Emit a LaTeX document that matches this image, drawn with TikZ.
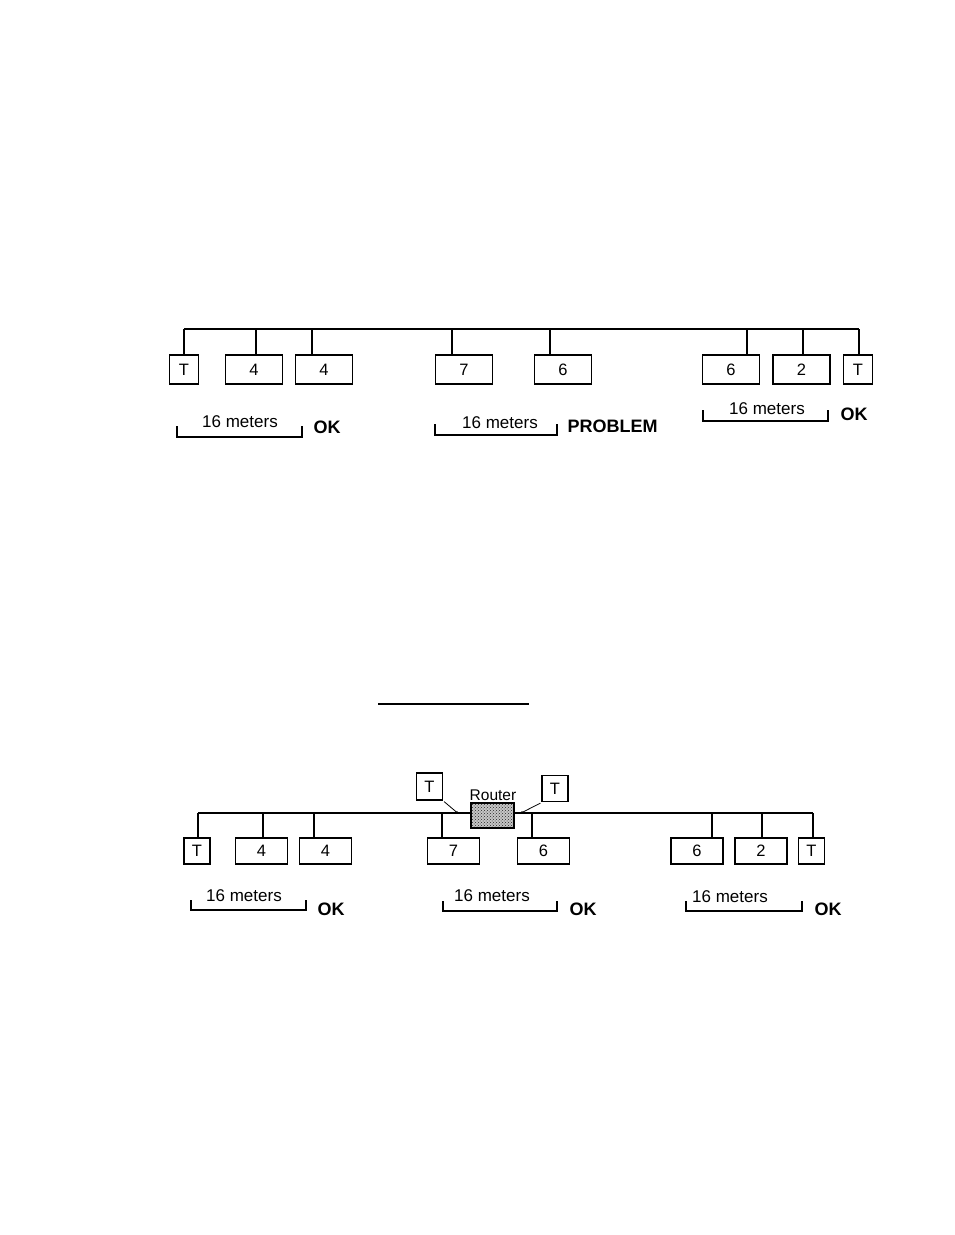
\documentclass[tikz,border=0pt]{standalone}
\usepackage{fontspec}
\setmainfont{Liberation Sans}
\usetikzlibrary{patterns}
\begin{document}
\begin{tikzpicture}[x=1pt,y=-1pt,line width=1.2pt,
  box/.style={draw,line width=1.2pt,minimum width=57pt,minimum height=29pt,inner sep=0pt,font=\fontsize{16.5}{16.5}\selectfont},
  tbox/.style={box,minimum width=29pt},
  sbox/.style={draw,line width=1.2pt,minimum width=52pt,minimum height=26pt,inner sep=0pt,font=\fontsize{16.5}{16.5}\selectfont},
  stbox/.style={sbox,minimum width=26pt},
  lbl/.style={font=\fontsize{17}{17}\selectfont,inner sep=0pt},
  verdict/.style={font=\fontsize{18}{18}\selectfont\bfseries,inner sep=0pt,anchor=west},
  router/.style={draw,line width=1.2pt,minimum width=43pt,minimum height=25pt,inner sep=0pt,preaction={fill=gray!45},pattern=crosshatch dots,pattern color=black!85}]
\useasboundingbox (0,0) rectangle (954,1235);
\fill[white] (0,0) rectangle (954,1235);

% ===== Top diagram =====
\coordinate (tL) at (184,329);
\coordinate (tR) at (859,329);
\draw (tL) -- (tR);
\node[tbox] (t1) at (184,369.5) {T};
\node[box] (a1) at (254,369.5) {4};
\node[box] (a2) at (324,369.5) {4};
\node[box] (a3) at (464,369.5) {7};
\node[box] (a4) at (563,369.5) {6};
\node[box] (a5) at (731,369.5) {6};
\node[box] (a6) at (801.5,369.5) {2};
\node[tbox] (t2) at (858,369.5) {T};
\foreach \x/\n in {184/t1,256/a1,312/a2,452/a3,550/a4,747/a5,803/a6,859/t2}{
  \coordinate (d\n) at (\x,329);
  \draw (d\n) -- (d\n |- \n.north);
}
% brackets
\draw (177,426) -- (177,437) -- (302,437) -- (302,426);
\node[lbl] (m1) at (240,421.5) {16 meters};
\node[verdict] (ok1) at (313,427.5) {OK};
\draw (435,424) -- (435,435) -- (557,435) -- (557,424);
\node[lbl] (m2) at (500,423) {16 meters};
\node[verdict] (pr) at (567,426.5) {PROBLEM};
\draw (703,410) -- (703,421) -- (828,421) -- (828,410);
\node[lbl] (m3) at (767,408.5) {16 meters};
\node[verdict] (ok2) at (840,414.5) {OK};

% ===== Underline =====
\coordinate (u1) at (378,704);
\coordinate (u2) at (529,704);
\draw (u1) -- (u2);

% ===== Bottom diagram =====
\coordinate (bL) at (198,813);
\coordinate (bR) at (813,813);
\draw (bL) -- (bR);
\node[stbox] (s1) at (197,851) {T};
\node[sbox] (b1) at (261.5,851) {4};
\node[sbox] (b2) at (325.5,851) {4};
\node[sbox] (b3) at (453.5,851) {7};
\node[sbox] (b4) at (543.5,851) {6};
\node[sbox] (b5) at (697,851) {6};
\node[sbox] (b6) at (761,851) {2};
\node[stbox] (s2) at (811.5,851) {T};
\foreach \x/\n in {198/s1,263/b1,314/b2,442/b3,532/b4,712/b5,762/b6,813/s2}{
  \coordinate (e\n) at (\x,813);
  \draw (e\n) -- (e\n |- \n.north);
}
\node[router] (rt) at (492.5,815.5) {};
\node[font=\fontsize{15.5}{15.5}\selectfont,inner sep=0pt] (rtl) at (493,795.5) {Router};
\node[stbox,minimum height=27pt] (u3) at (429.5,786.5) {T};
\node[stbox] (u4) at (555,788.5) {T};
\coordinate (j1) at (457,812.5);
\coordinate (j2) at (522,812.5);
\draw[line width=0.8pt] (u3.south east) ++(1,1) -- (j1);
\draw[line width=0.8pt] (u4.south west) ++(-1,1) -- (j2);
\fill (j1) circle (1.3pt);
\fill (j2) circle (1.3pt);
% brackets
\draw (191,900) -- (191,910) -- (306,910) -- (306,900);
\node[lbl] (m4) at (244,895.5) {16 meters};
\node[verdict] (ok3) at (317,909) {OK};
\draw (443,901) -- (443,911) -- (557,911) -- (557,901);
\node[lbl] (m5) at (492,895.5) {16 meters};
\node[verdict] (ok4) at (569,909) {OK};
\draw (686,901) -- (686,911) -- (802,911) -- (802,901);
\node[lbl] (m6) at (730,896.5) {16 meters};
\node[verdict] (ok5) at (814,909) {OK};
\end{tikzpicture}
\end{document}
